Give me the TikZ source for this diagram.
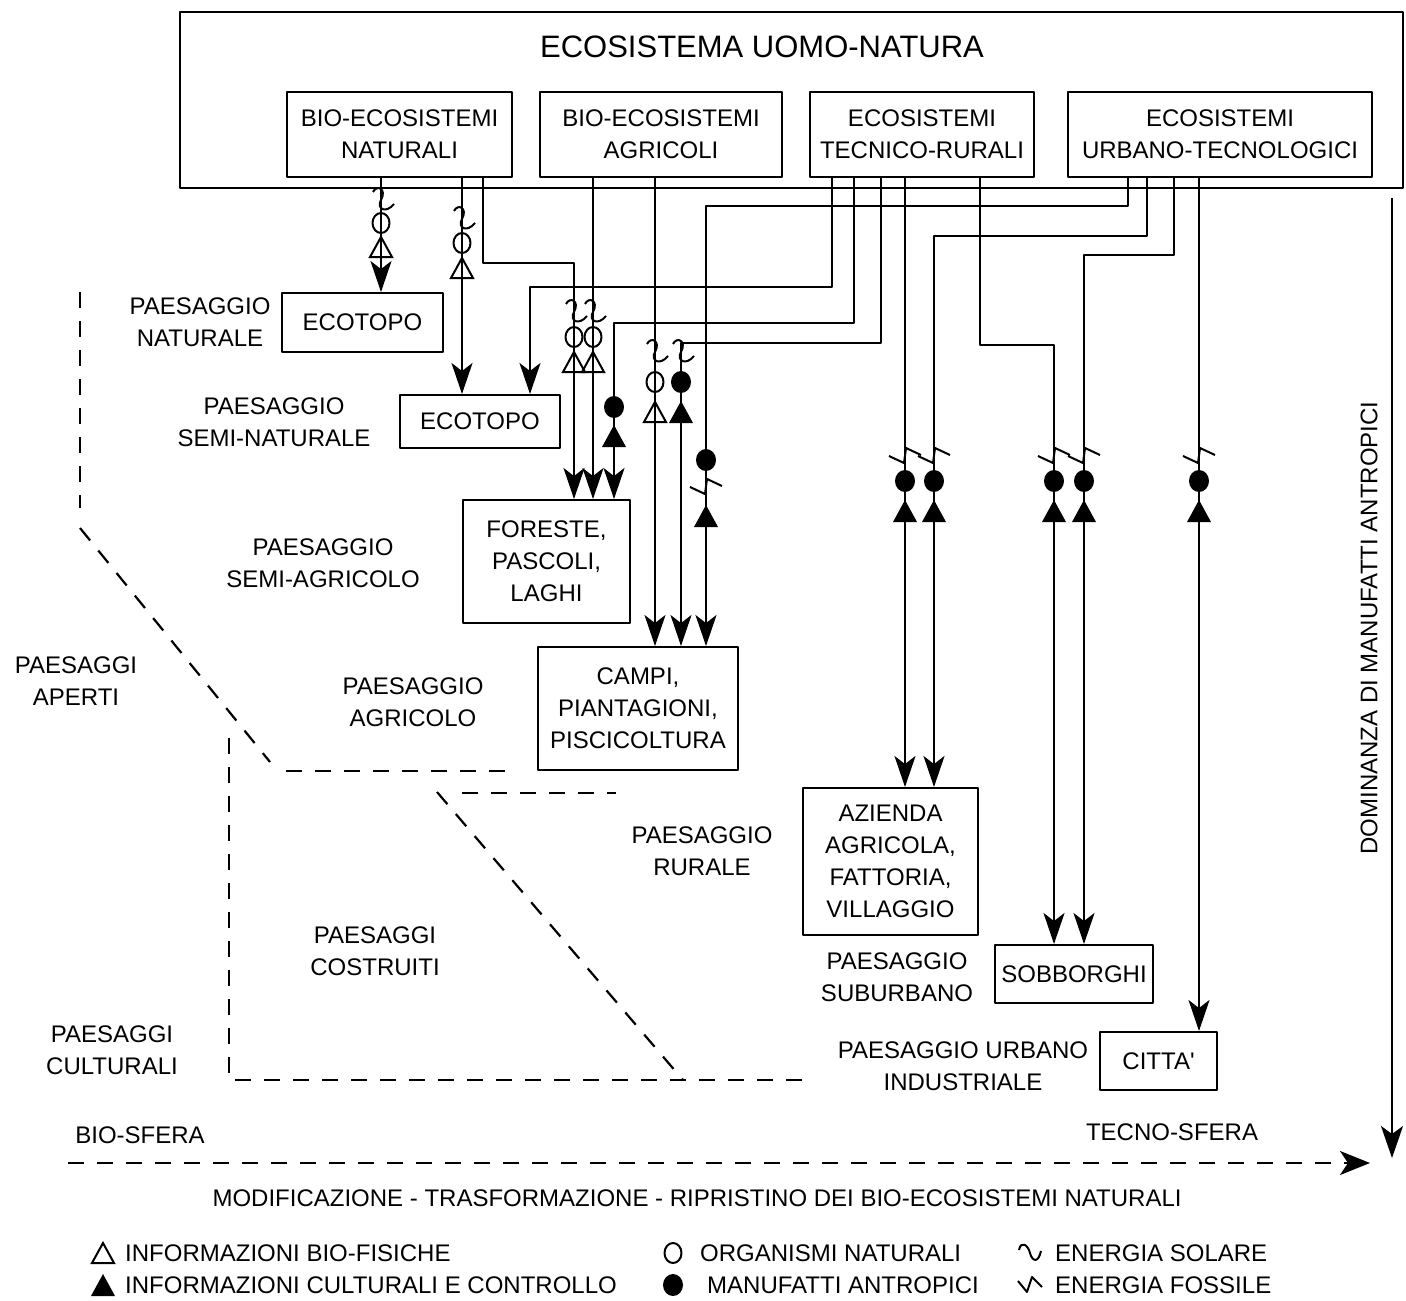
\documentclass[tikz,border=0pt]{standalone}
\usepackage{fontspec}
\setmainfont{Liberation Sans}
\usetikzlibrary{arrows.meta}
\newcommand\lblfont{\fontsize{24}{32}\selectfont}
\newcommand\ttlfont{\fontsize{31}{36}\selectfont}
\begin{document}
\begin{tikzpicture}[x=1pt,y=-1pt,line join=round,
  box/.style={draw,line width=2pt,inner sep=0pt,align=center,font=\lblfont},
  lbl/.style={inner sep=0pt,align=center,font=\lblfont},
  wire/.style={line width=2pt},
  conn/.style={wire,-{Stealth[length=31pt,width=21pt,inset=8pt]}},
  bound/.style={line width=2.2pt,dash pattern=on 16pt off 13pt},
  symotri/.pic={\draw[line width=2pt,line join=miter] (-11,10) -- (11,10) -- (0,-10) -- cycle;},
  symftri/.pic={\fill (-12,11) -- (12,11) -- (0,-11) -- cycle;},
  symocirc/.pic={\draw[line width=2pt] (0,0) ellipse [x radius=8.5pt,y radius=10pt];},
  symfcirc/.pic={\fill (0,0) ellipse [x radius=10pt,y radius=11pt];},
  symsolar/.pic={\draw[line width=2pt] (-8,-10) .. controls (-4,-18) and (6,-13) .. (0,-2) .. controls (-5,7) and (5,12) .. (13,2);},
  symfossil/.pic={\draw[line width=2pt] (-16,-1) -- (-1,6) -- (1,-9) -- (16,-2);},
  legsolar/.pic={\draw[line width=2pt] (-11,-3) .. controls (-9,-13) and (-2,-8) .. (0,0) .. controls (2,8) and (8,11) .. (11,-2);},
  legfossil/.pic={\draw[line width=2pt] (-12,-4) -- (-3,7) -- (2,-8) -- (12,2);}
]
\useasboundingbox (0,0) rectangle (1406,1301);

% top frame
\node[draw,line width=2pt,inner sep=0pt,minimum width=1223pt,minimum height=176pt] (eco) at (791.5,100) {};
\node[inner sep=0pt,font=\ttlfont] (title) at (762,47) {ECOSISTEMA UOMO-NATURA};
\node[box,minimum width=225pt,minimum height=85pt] (b1) at (399.5,134.5) {BIO-ECOSISTEMI\\NATURALI};
\node[box,minimum width=242pt,minimum height=85pt] (b2) at (661,134.5) {BIO-ECOSISTEMI\\AGRICOLI};
\node[box,minimum width=224pt,minimum height=85pt] (b3) at (922,134.5) {ECOSISTEMI\\TECNICO-RURALI};
\node[box,minimum width=304pt,minimum height=85pt] (b4) at (1220,134.5) {ECOSISTEMI\\URBANO-TECNOLOGICI};

% landscape boxes
\node[box,minimum width=161pt,minimum height=59pt] (e1) at (362.5,322.5) {ECOTOPO};
\node[box,minimum width=160pt,minimum height=53pt] (e2) at (480,421.5) {ECOTOPO};
\node[box,minimum width=167pt,minimum height=123pt] (f) at (546.5,561.5) {FORESTE,\\PASCOLI,\\LAGHI};
\node[box,minimum width=200pt,minimum height=123pt] (c) at (638,708.5) {CAMPI,\\PIANTAGIONI,\\PISCICOLTURA};
\node[box,minimum width=175pt,minimum height=147pt] (a) at (890.5,861.5) {AZIENDA\\AGRICOLA,\\FATTORIA,\\VILLAGGIO};
\node[box,minimum width=158pt,minimum height=58pt] (s) at (1074,974) {SOBBORGHI};
\node[box,minimum width=117pt,minimum height=58pt] (t) at (1158.5,1061) {CITTA\textquotesingle};

% x positions of the connectors
\foreach \n/\v in {xA/381,xB/462,xC/483,xCb/574,xD/593,xG/655,xE/832,xEb/530,xF/854,xFb/614,xH/881,xHb/681,xJ/905,xL/980,xLb/1054,xI/1128,xIb/706,xK/1147,xKb/934,xM/1174,xMb/1084,xN/1199}
  {\coordinate (\n) at (\v,0);}

% connectors
\draw[conn] (b1.south -| xA) -- (e1.north -| xA);
\draw[conn] (b1.south -| xB) -- (e2.north -| xB);
\draw[conn] (b1.south -| xC) -- ++(0,85) -| (f.north -| xCb);
\draw[conn] (b2.south -| xD) -- (f.north -| xD);
\draw[conn] (b2.south -| xG) -- (c.north -| xG);
\draw[conn] (b3.south -| xE) -- ++(0,109) -| (e2.north -| xEb);
\draw[conn] (b3.south -| xF) -- ++(0,145) -| (f.north -| xFb);
\draw[conn] (b3.south -| xH) -- ++(0,165) -| (c.north -| xHb);
\draw[conn] (b3.south -| xJ) -- (a.north -| xJ);
\draw[conn] (b3.south -| xL) -- ++(0,167) -| (s.north -| xLb);
\draw[conn] (b4.south -| xI) -- ++(0,28) -| (c.north -| xIb);
\draw[conn] (b4.south -| xK) -- ++(0,58) -| (a.north -| xKb);
\draw[conn] (b4.south -| xM) -- ++(0,77) -| (s.north -| xMb);
\draw[conn] (b4.south -| xN) -- (t.north -| xN);

% symbols on the connectors
\pic at (381,202) {symsolar}; \pic at (381,223) {symocirc}; \pic at (381,247) {symotri};
\pic at (462,221) {symsolar}; \pic at (462,243) {symocirc}; \pic at (462,268) {symotri};
\foreach \x in {574,593}{\pic at (\x,314) {symsolar}; \pic at (\x,337) {symocirc}; \pic at (\x,362) {symotri};}
\pic at (614,407) {symfcirc}; \pic at (614,436) {symftri};
\pic at (655,354) {symsolar}; \pic at (655,382) {symocirc}; \pic at (655,412) {symotri};
\pic at (681,354) {symsolar}; \pic at (681,382) {symfcirc}; \pic at (681,412) {symftri};
\pic at (706,460) {symfcirc}; \pic at (706,488) {symfossil}; \pic at (706,516) {symftri};
\foreach \x in {905,934,1054,1084,1199}{\pic at (\x,457) {symfossil}; \pic at (\x,481) {symfcirc}; \pic at (\x,511) {symftri};}

% landscape labels
\node[lbl] (l1) at (200,322) {PAESAGGIO\\NATURALE};
\node[lbl] (l2) at (274,422) {PAESAGGIO\\SEMI-NATURALE};
\node[lbl] (l3) at (323,563) {PAESAGGIO\\SEMI-AGRICOLO};
\node[lbl] (l4) at (76,681) {PAESAGGI\\APERTI};
\node[lbl] (l5) at (413,702) {PAESAGGIO\\AGRICOLO};
\node[lbl] (l6) at (702,851) {PAESAGGIO\\RURALE};
\node[lbl] (l7) at (375,951) {PAESAGGI\\COSTRUITI};
\node[lbl] (l8) at (897,977) {PAESAGGIO\\SUBURBANO};
\node[lbl] (l9) at (112,1050) {PAESAGGI\\CULTURALI};
\node[lbl] (l10) at (963,1066) {PAESAGGIO URBANO\\INDUSTRIALE};
\node[lbl] (bio) at (140,1135) {BIO-SFERA};
\node[lbl] (tecno) at (1172,1132) {TECNO-SFERA};
\node[lbl] (modif) at (697,1198) {MODIFICAZIONE - TRASFORMAZIONE - RIPRISTINO DEI BIO-ECOSISTEMI NATURALI};
\node[lbl,rotate=90] (dom) at (1369,628) {DOMINANZA DI MANUFATTI ANTROPICI};

% boundaries
\draw[bound] (80,292) -- (80,508);
\draw[bound] (80,528) -- (270,762);
\draw[bound] (286,771) -- (516,771);
\draw[bound] (229,738) -- (229,1080) -- (815,1080);
\draw[bound] (437,792) -- (683,1080);
\draw[bound] (462,793) -- (616,793);

% axes
\coordinate (hs) at (68,1163);
\coordinate (he) at (1370,1163);
\draw[bound,-{Stealth[length=30pt,width=24pt,inset=8pt]}] (hs) -- (he);
\coordinate (vs) at (1392,198);
\coordinate (ve) at (1392,1158);
\draw[wire,-{Stealth[length=32pt,width=22pt,inset=8pt]}] (vs) -- (ve);

% legend
\pic at (103,1253) {symotri}; \node[lbl,anchor=west] (g1) at (125,1253) {INFORMAZIONI BIO-FISICHE};
\pic at (103,1285) {symftri}; \node[lbl,anchor=west] (g2) at (125,1285) {INFORMAZIONI CULTURALI E CONTROLLO};
\pic at (673,1253) {symocirc}; \node[lbl,anchor=west] (g3) at (700,1253) {ORGANISMI NATURALI};
\pic at (673,1285) {symfcirc}; \node[lbl,anchor=west] (g4) at (707,1285) {MANUFATTI ANTROPICI};
\pic at (1030,1253) {legsolar}; \node[lbl,anchor=west] (g5) at (1055,1253) {ENERGIA SOLARE};
\pic at (1030,1285) {legfossil}; \node[lbl,anchor=west] (g6) at (1055,1285) {ENERGIA FOSSILE};
\end{tikzpicture}
\end{document}
